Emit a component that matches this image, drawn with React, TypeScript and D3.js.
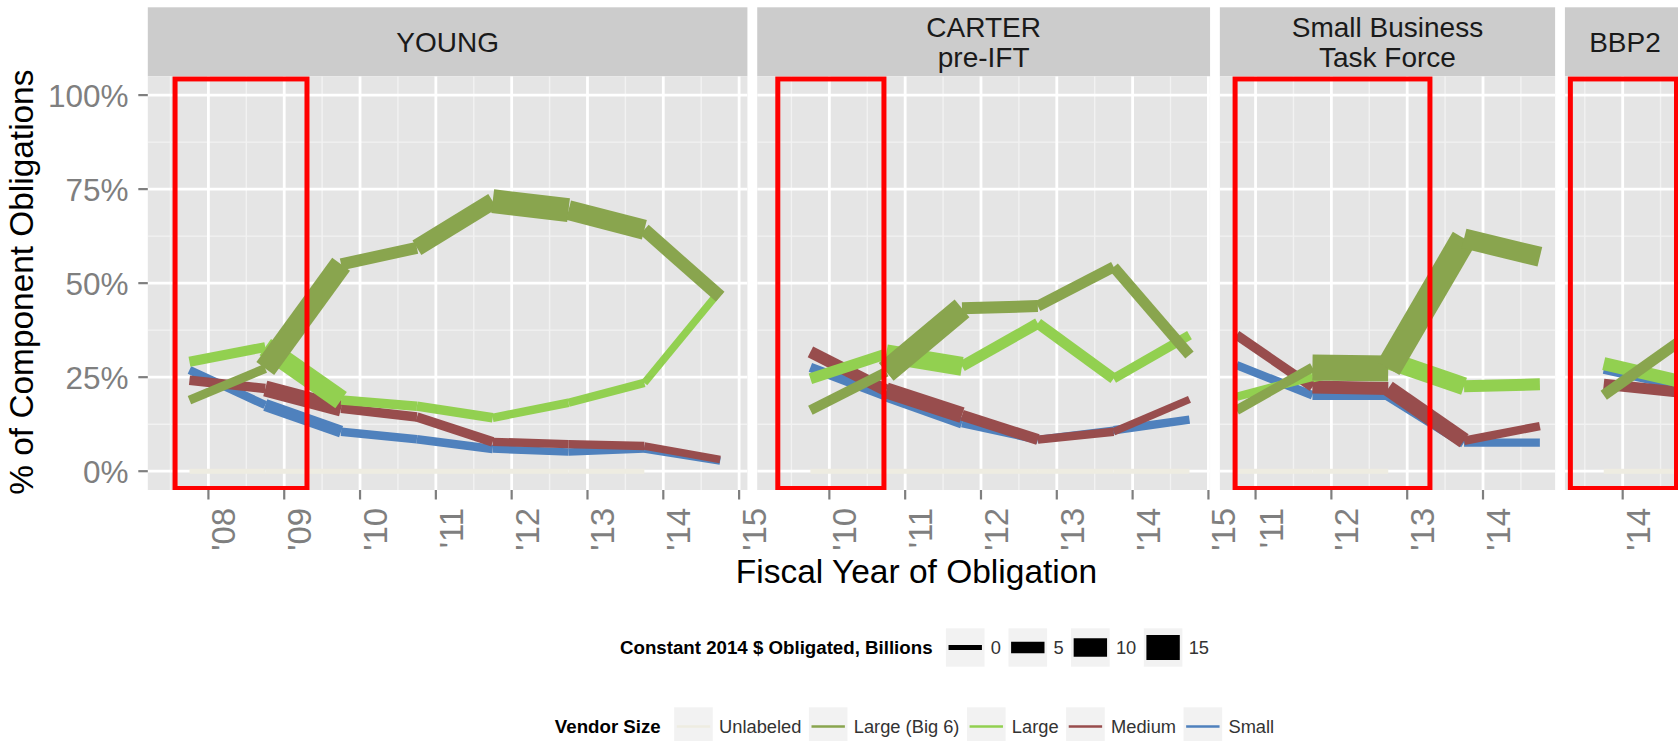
import React from "react";
import * as d3 from "d3";

// ---------------- data ----------------
const vendorSizes = ["Unlabeled", "Large (Big 6)", "Large", "Medium", "Small"];
const vendorColors = ["#EEECE1", "#89A54E", "#92D050", "#984D4D", "#4F81BD"];

const panelNames = ["YOUNG", "CARTER\npre-IFT", "Small Business\nTask Force", "BBP2"];
const periodStart = [2007.56, 2009.32, 2010.73, 2013.31];
const periodEnd = [2009.3, 2010.72, 2013.3, 2014.71];

const sizeLegendValues = [0, 5, 10, 15];
const yTicks = [0, 0.25, 0.5, 0.75, 1];
const yMinorTicks = [0.125, 0.375, 0.625, 0.875];

// YOUNG
const youngFY = [2008, 2009, 2010, 2011, 2012, 2013, 2014, 2015];
const youngShareUnlabeled = [0, 0, 0, 0, 0, 0, 0];
const youngShareBig6 = [0.189, 0.273, 0.55, 0.594, 0.718, 0.694, 0.642, 0.464];
const youngShareLarge = [0.291, 0.33, 0.189, 0.173, 0.142, 0.182, 0.235, 0.48];
const youngShareMedium = [0.242, 0.22, 0.167, 0.144, 0.078, 0.072, 0.067, 0.031];
const youngShareSmall = [0.269, 0.176, 0.105, 0.085, 0.059, 0.051, 0.059, 0.027];
const youngOblUnlabeled = [0, 0, 0, 0, 0, 0, 0];
const youngOblBig6 = [3, 12.75, 5.25, 9, 14.25, 11.25, 6, 5.5];
const youngOblLarge = [3.75, 11.25, 3.4, 3.4, 2.6, 2.6, 1.9, 1.5];
const youngOblMedium = [3.4, 8.25, 3.4, 3.4, 2.6, 2.6, 1.9, 1];
const youngOblSmall = [2.6, 5.25, 2.6, 2.6, 1.9, 1.9, 1.9, 1];

// CARTER pre-IFT
const carterFY = [2010, 2011, 2012, 2013, 2014, 2015];
const carterShareUnlabeled = [0, 0, 0, 0, 0, 0];
const carterShareBig6 = [0.162, 0.264, 0.433, 0.439, 0.543, 0.309];
const carterShareLarge = [0.246, 0.312, 0.279, 0.393, 0.246, 0.362];
const carterShareMedium = [0.317, 0.215, 0.149, 0.084, 0.105, 0.191];
const carterShareSmall = [0.276, 0.2, 0.128, 0.084, 0.109, 0.137];
const carterOblUnlabeled = [0, 0, 0, 0, 0, 0];
const carterOblBig6 = [3.75, 13.5, 5.25, 4.5, 4.5, 4];
const carterOblLarge = [4.5, 10.5, 4.5, 4.5, 3.4, 3];
const carterOblMedium = [5.25, 8.25, 4.5, 2.6, 1.9, 2];
const carterOblSmall = [3.4, 4.5, 2.6, 1.9, 2.6, 2.5];

// Small Business Task Force
const sbtfFY = [2011, 2012, 2013, 2014, 2015];
const sbtfShareUnlabeled = [0, 0, 0];
const sbtfShareBig6 = [0.162, 0.276, 0.273, 0.619, 0.57];
const sbtfShareLarge = [0.198, 0.251, 0.295, 0.226, 0.231];
const sbtfShareMedium = [0.362, 0.224, 0.22, 0.081, 0.12];
const sbtfShareSmall = [0.282, 0.202, 0.202, 0.076, 0.076];
const sbtfOblUnlabeled = [0, 0, 0];
const sbtfOblBig6 = [3.4, 15.75, 15.75, 11.25, 10];
const sbtfOblLarge = [2.6, 4.5, 9.75, 5.25, 5];
const sbtfOblMedium = [3.4, 6, 8.25, 2.6, 2.5];
const sbtfOblSmall = [2.6, 3.4, 4.5, 2.6, 2.5];

// BBP2
const bbp2FY = [2014, 2015];
const bbp2ShareUnlabeled = [0, 0];
const bbp2ShareBig6 = [0.202, 0.345];
const bbp2ShareLarge = [0.286, 0.239];
const bbp2ShareMedium = [0.231, 0.21];
const bbp2ShareSmall = [0.27, 0.226];
const bbp2OblUnlabeled = [0, 0];
const bbp2OblBig6 = [4.5, 4.5];
const bbp2OblLarge = [6, 6];
const bbp2OblMedium = [4.5, 4.5];
const bbp2OblSmall = [2.6, 2.6];

// ---------------- layout / style ----------------
const W = 1678;
const H = 741;
const FONT = "'Liberation Sans', Arial, Helvetica, sans-serif";

let measureCtx: CanvasRenderingContext2D | null = null;
function measure(text: string, font: string): number {
  if (!measureCtx) {
    const c = document.createElement("canvas");
    measureCtx = c.getContext("2d");
  }
  if (!measureCtx) return text.length * 9;
  measureCtx.font = font;
  return measureCtx.measureText(text).width;
}

export default function App() {
  const panels = [
    {
      fy: youngFY,
      share: [youngShareUnlabeled, youngShareBig6, youngShareLarge, youngShareMedium, youngShareSmall],
      obl: [youngOblUnlabeled, youngOblBig6, youngOblLarge, youngOblMedium, youngOblSmall],
    },
    {
      fy: carterFY,
      share: [carterShareUnlabeled, carterShareBig6, carterShareLarge, carterShareMedium, carterShareSmall],
      obl: [carterOblUnlabeled, carterOblBig6, carterOblLarge, carterOblMedium, carterOblSmall],
    },
    {
      fy: sbtfFY,
      share: [sbtfShareUnlabeled, sbtfShareBig6, sbtfShareLarge, sbtfShareMedium, sbtfShareSmall],
      obl: [sbtfOblUnlabeled, sbtfOblBig6, sbtfOblLarge, sbtfOblMedium, sbtfOblSmall],
    },
    {
      fy: bbp2FY,
      share: [bbp2ShareUnlabeled, bbp2ShareBig6, bbp2ShareLarge, bbp2ShareMedium, bbp2ShareSmall],
      obl: [bbp2OblUnlabeled, bbp2OblBig6, bbp2OblLarge, bbp2OblMedium, bbp2OblSmall],
    },
  ];

  // fiscal year N is plotted at Oct 1 of year N-1
  const fyToX = (fy: number) => fy - 0.25;

  const plotLeft = 147.8;
  const plotRight = 1685;
  const gap = 9.8;
  const stripTop = 7.3;
  const panelTop = 76.3;
  const panelBottom = 490;

  const domains = panels.map((p, i) => {
    const xs = p.fy.map(fyToX);
    const lo = Math.min(periodStart[i], xs[0]);
    const hi = Math.max(periodEnd[i], xs[xs.length - 1]);
    const pad = (hi - lo) * 0.05;
    return [lo - pad, hi + pad];
  });
  const totalSpan = d3.sum(domains, (d) => d[1] - d[0]);
  const k = (plotRight - plotLeft - gap * (panels.length - 1)) / totalSpan;
  let cursor = plotLeft;
  const xScales = domains.map((d) => {
    const w = (d[1] - d[0]) * k;
    const s = d3.scaleLinear().domain(d).range([cursor, cursor + w]);
    cursor += w + gap;
    return s;
  });

  const y = d3.scaleLinear().domain([-0.05, 1.05]).range([panelBottom, panelTop]);
  const size = d3.scaleLinear().domain([0, 15]).range([5, 25]);

  const drawOrder = [4, 3, 2, 1, 0];
  const axisGrey = "#7F7F7F";

  // ----- legends -----
  const legFontSize = 18.3;
  const legTitleSize = 18.7;
  const labelFont = `${legFontSize}px ${FONT}`;
  const titleFont = `bold ${legTitleSize}px ${FONT}`;
  const keyW = 38.6;
  const keyH = 38.4;
  const titleGap = 13.4;
  const keyLabelGap = 6.3;
  const itemGap = 7.5;
  const legendCenter = 914.5;

  function layoutLegend(title: string, labels: string[]) {
    const tw = measure(title, titleFont);
    const lws = labels.map((l) => measure(l, labelFont));
    const total =
      tw + titleGap + d3.sum(lws) + labels.length * (keyW + keyLabelGap) + itemGap * (labels.length - 1);
    let x = legendCenter - total / 2;
    const titleX = x;
    x += tw + titleGap;
    const items = labels.map((l, i) => {
      const kx = x;
      const lx = kx + keyW + keyLabelGap;
      x = lx + lws[i] + itemGap;
      return { kx, lx, label: l };
    });
    return { titleX, items };
  }

  const sizeLegend = layoutLegend(
    "Constant 2014 $ Obligated, Billions",
    sizeLegendValues.map((v) => String(v))
  );
  const colorLegend = layoutLegend("Vendor Size", vendorSizes);
  const sizeLegendTop = 628.3;
  const colorLegendTop = 707.3;

  return (
    <div
      style={{
        position: "fixed",
        left: 0,
        top: 0,
        width: W,
        height: H,
        overflow: "hidden",
        background: "#FFFFFF",
      }}
    >
      <svg width={W} height={H} style={{ display: "block", fontFamily: FONT }}>
        <defs>
          {xScales.map((xs, i) => (
            <clipPath id={`clip${i}`} key={i}>
              <rect
                x={xs.range()[0]}
                y={panelTop}
                width={xs.range()[1] - xs.range()[0]}
                height={panelBottom - panelTop}
              />
            </clipPath>
          ))}
        </defs>

        {panels.map((p, pi) => {
          const x = xScales[pi];
          const [x0, x1] = x.range();
          const [d0, d1] = x.domain();
          const majors = d3.range(Math.ceil(d0), Math.floor(d1) + 1);
          const minors = d3
            .range(Math.floor(d0) - 1, Math.ceil(d1) + 1)
            .map((v) => v + 0.5)
            .filter((v) => v > d0 && v < d1);
          const lines = panelNames[pi].split("\n");
          const stripMid = (stripTop + panelTop) / 2;
          const lineH = 30.5;
          return (
            <g key={pi}>
              {/* strip */}
              <rect x={x0} y={stripTop} width={x1 - x0} height={panelTop - stripTop} fill="#CCCCCC" />
              {lines.map((t, li) => (
                <text
                  key={li}
                  x={(x0 + x1) / 2}
                  y={stripMid + (li - (lines.length - 1) / 2) * lineH + 10.3}
                  textAnchor="middle"
                  fontSize={28}
                  fill="#1A1A1A"
                >
                  {t}
                </text>
              ))}
              {/* panel */}
              <rect x={x0} y={panelTop} width={x1 - x0} height={panelBottom - panelTop} fill="#E5E5E5" />
              <g clipPath={`url(#clip${pi})`}>
                {yMinorTicks.map((t) => (
                  <line key={`ym${t}`} x1={x0} x2={x1} y1={y(t)} y2={y(t)} stroke="#F2F2F2" strokeWidth={1.4} />
                ))}
                {minors.map((t) => (
                  <line key={`xm${t}`} x1={x(t)} x2={x(t)} y1={panelTop} y2={panelBottom} stroke="#F2F2F2" strokeWidth={1.4} />
                ))}
                {yTicks.map((t) => (
                  <line key={`yM${t}`} x1={x0} x2={x1} y1={y(t)} y2={y(t)} stroke="#FFFFFF" strokeWidth={2.8} />
                ))}
                {majors.map((t) => (
                  <line key={`xM${t}`} x1={x(t)} x2={x(t)} y1={panelTop} y2={panelBottom} stroke="#FFFFFF" strokeWidth={2.8} />
                ))}
                {/* data segments: each segment takes the size of its starting year */}
                {drawOrder.map((si) => {
                  const share = p.share[si];
                  const obl = p.obl[si];
                  const n = share.length;
                  return (
                    <g key={si}>
                      {d3.range(n - 1).map((j) => (
                        <line
                          key={j}
                          x1={x(fyToX(p.fy[j]))}
                          y1={y(share[j])}
                          x2={x(fyToX(p.fy[j + 1]))}
                          y2={y(share[j + 1])}
                          stroke={vendorColors[si]}
                          strokeWidth={size(obl[j])}
                          strokeLinecap="butt"
                        />
                      ))}
                    </g>
                  );
                })}
                {/* leadership period */}
                <rect
                  x={x(periodStart[pi])}
                  y={y(1.043)}
                  width={x(periodEnd[pi]) - x(periodStart[pi])}
                  height={y(-0.046) - y(1.043)}
                  fill="none"
                  stroke="#FF0000"
                  strokeWidth={5}
                />
              </g>
              {/* x axis */}
              {majors.map((t) => (
                <g key={`xt${t}`}>
                  <line x1={x(t)} x2={x(t)} y1={panelBottom} y2={panelBottom + 9.5} stroke={axisGrey} strokeWidth={2.2} />
                  <text
                    transform={`translate(${x(t) + 27},${507.8}) rotate(-90)`}
                    textAnchor="end"
                    fontSize={33}
                    fill={axisGrey}
                  >
                    {"'" + String(t).slice(2)}
                  </text>
                </g>
              ))}
            </g>
          );
        })}

        {/* y axis */}
        {yTicks.map((t) => (
          <g key={`yt${t}`}>
            <line x1={plotLeft - 9.5} x2={plotLeft} y1={y(t)} y2={y(t)} stroke={axisGrey} strokeWidth={2.2} />
            <text x={128.5} y={y(t) + 11.4} textAnchor="end" fontSize={31.5} fill={axisGrey}>
              {d3.format(".0%")(t)}
            </text>
          </g>
        ))}

        {/* axis titles */}
        <text
          transform={`translate(33.3,${(panelTop + panelBottom) / 2 - 1}) rotate(-90)`}
          textAnchor="middle"
          fontSize={33.4}
          fill="#000000"
        >
          % of Component Obligations
        </text>
        <text x={(plotLeft + plotRight) / 2} y={583} textAnchor="middle" fontSize={33.5} fill="#000000">
          Fiscal Year of Obligation
        </text>

        {/* size legend */}
        <text x={sizeLegend.titleX} y={sizeLegendTop + keyH / 2 + 6.7} fontSize={legTitleSize} fontWeight="bold" fill="#000000">
          Constant 2014 $ Obligated, Billions
        </text>
        {sizeLegend.items.map((it, i) => (
          <g key={`sl${i}`}>
            <rect x={it.kx} y={sizeLegendTop} width={keyW} height={keyH} fill="#F2F2F2" />
            <line
              x1={it.kx + 2.6}
              x2={it.kx + keyW - 2.6}
              y1={sizeLegendTop + keyH / 2}
              y2={sizeLegendTop + keyH / 2}
              stroke="#000000"
              strokeWidth={size(sizeLegendValues[i])}
            />
            <text x={it.lx} y={sizeLegendTop + keyH / 2 + 6.7} fontSize={legFontSize} fill="#333333">
              {it.label}
            </text>
          </g>
        ))}

        {/* color legend */}
        <text x={colorLegend.titleX} y={colorLegendTop + keyH / 2 + 6.7} fontSize={legTitleSize} fontWeight="bold" fill="#000000">
          Vendor Size
        </text>
        {colorLegend.items.map((it, i) => (
          <g key={`cl${i}`}>
            <rect x={it.kx} y={colorLegendTop} width={keyW} height={keyH} fill="#F2F2F2" />
            <line
              x1={it.kx + 2.6}
              x2={it.kx + keyW - 2.6}
              y1={colorLegendTop + keyH / 2}
              y2={colorLegendTop + keyH / 2}
              stroke={vendorColors[i]}
              strokeWidth={2.7}
            />
            <text x={it.lx} y={colorLegendTop + keyH / 2 + 6.7} fontSize={legFontSize} fill="#333333">
              {it.label}
            </text>
          </g>
        ))}
      </svg>
    </div>
  );
}
